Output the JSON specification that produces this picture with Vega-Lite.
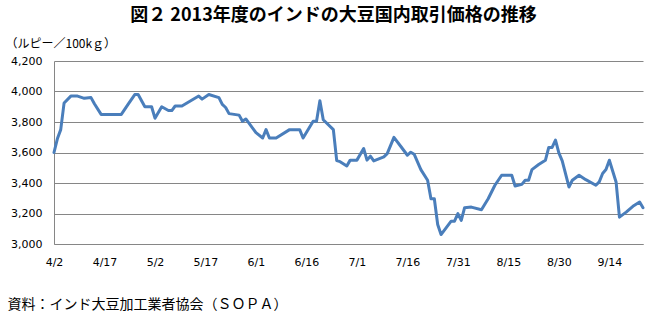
{
  "$schema": "https://vega.github.io/schema/vega-lite/v6.json",
  "autosize": "none",
  "width": 589,
  "height": 183,
  "padding": {"left": 54, "top": 61, "right": 9, "bottom": 68},
  "background": "white",
  "title": {
    "text": "図２  2013年度のインドの大豆国内取引価格の推移",
    "font": "Noto Sans CJK JP",
    "fontSize": 18,
    "fontWeight": "bold",
    "color": "#000000",
    "anchor": "middle",
    "dx": -15,
    "offset": 12
  },
  "data": {
    "values": [
      {"date": "2013/04/02", "price": 3600},
      {"date": "2013/04/03", "price": 3690},
      {"date": "2013/04/04", "price": 3750},
      {"date": "2013/04/05", "price": 3925},
      {"date": "2013/04/07", "price": 3970},
      {"date": "2013/04/09", "price": 3970},
      {"date": "2013/04/11", "price": 3955},
      {"date": "2013/04/13", "price": 3960},
      {"date": "2013/04/14", "price": 3920},
      {"date": "2013/04/16", "price": 3850},
      {"date": "2013/04/22", "price": 3850},
      {"date": "2013/04/24", "price": 3915},
      {"date": "2013/04/26", "price": 3980},
      {"date": "2013/04/27", "price": 3980},
      {"date": "2013/04/29", "price": 3900},
      {"date": "2013/05/01", "price": 3900},
      {"date": "2013/05/02", "price": 3825},
      {"date": "2013/05/04", "price": 3900},
      {"date": "2013/05/06", "price": 3875},
      {"date": "2013/05/07", "price": 3875},
      {"date": "2013/05/08", "price": 3905},
      {"date": "2013/05/10", "price": 3905},
      {"date": "2013/05/15", "price": 3970},
      {"date": "2013/05/16", "price": 3950},
      {"date": "2013/05/18", "price": 3980},
      {"date": "2013/05/21", "price": 3960},
      {"date": "2013/05/22", "price": 3915},
      {"date": "2013/05/23", "price": 3895},
      {"date": "2013/05/24", "price": 3855},
      {"date": "2013/05/27", "price": 3845},
      {"date": "2013/05/28", "price": 3805},
      {"date": "2013/05/29", "price": 3820},
      {"date": "2013/06/01", "price": 3730},
      {"date": "2013/06/03", "price": 3695},
      {"date": "2013/06/04", "price": 3750},
      {"date": "2013/06/05", "price": 3695},
      {"date": "2013/06/07", "price": 3695},
      {"date": "2013/06/11", "price": 3750},
      {"date": "2013/06/14", "price": 3750},
      {"date": "2013/06/15", "price": 3695},
      {"date": "2013/06/18", "price": 3805},
      {"date": "2013/06/19", "price": 3805},
      {"date": "2013/06/20", "price": 3940},
      {"date": "2013/06/21", "price": 3815},
      {"date": "2013/06/24", "price": 3750},
      {"date": "2013/06/25", "price": 3547},
      {"date": "2013/06/26", "price": 3540},
      {"date": "2013/06/28", "price": 3512},
      {"date": "2013/06/29", "price": 3550},
      {"date": "2013/07/01", "price": 3550},
      {"date": "2013/07/03", "price": 3626},
      {"date": "2013/07/04", "price": 3550},
      {"date": "2013/07/05", "price": 3576},
      {"date": "2013/07/06", "price": 3545},
      {"date": "2013/07/09", "price": 3571},
      {"date": "2013/07/10", "price": 3593},
      {"date": "2013/07/12", "price": 3699},
      {"date": "2013/07/14", "price": 3641},
      {"date": "2013/07/16", "price": 3582},
      {"date": "2013/07/17", "price": 3602},
      {"date": "2013/07/18", "price": 3589},
      {"date": "2013/07/20", "price": 3488},
      {"date": "2013/07/22", "price": 3418},
      {"date": "2013/07/23", "price": 3297},
      {"date": "2013/07/24", "price": 3297},
      {"date": "2013/07/25", "price": 3128},
      {"date": "2013/07/26", "price": 3062},
      {"date": "2013/07/29", "price": 3150},
      {"date": "2013/07/30", "price": 3150},
      {"date": "2013/07/31", "price": 3199},
      {"date": "2013/08/01", "price": 3155},
      {"date": "2013/08/02", "price": 3238},
      {"date": "2013/08/04", "price": 3242},
      {"date": "2013/08/07", "price": 3225},
      {"date": "2013/08/09", "price": 3297},
      {"date": "2013/08/11", "price": 3385},
      {"date": "2013/08/13", "price": 3451},
      {"date": "2013/08/16", "price": 3451},
      {"date": "2013/08/17", "price": 3380},
      {"date": "2013/08/19", "price": 3391},
      {"date": "2013/08/20", "price": 3418},
      {"date": "2013/08/21", "price": 3418},
      {"date": "2013/08/22", "price": 3488},
      {"date": "2013/08/24", "price": 3521},
      {"date": "2013/08/26", "price": 3549},
      {"date": "2013/08/27", "price": 3633},
      {"date": "2013/08/28", "price": 3633},
      {"date": "2013/08/29", "price": 3681},
      {"date": "2013/08/30", "price": 3597},
      {"date": "2013/08/31", "price": 3545},
      {"date": "2013/09/02", "price": 3374},
      {"date": "2013/09/03", "price": 3418},
      {"date": "2013/09/05", "price": 3451},
      {"date": "2013/09/07", "price": 3422},
      {"date": "2013/09/10", "price": 3385},
      {"date": "2013/09/11", "price": 3407},
      {"date": "2013/09/12", "price": 3462},
      {"date": "2013/09/13", "price": 3488},
      {"date": "2013/09/14", "price": 3549},
      {"date": "2013/09/16", "price": 3407},
      {"date": "2013/09/17", "price": 3176},
      {"date": "2013/09/19", "price": 3209},
      {"date": "2013/09/21", "price": 3247},
      {"date": "2013/09/23", "price": 3275},
      {"date": "2013/09/24", "price": 3238}
    ]
  },
  "mark": {"type": "line", "color": "#4A7EBB", "strokeWidth": 3, "strokeJoin": "round", "strokeCap": "round", "clip": false},
  "encoding": {
    "x": {
      "field": "date",
      "type": "temporal",
      "scale": {"domain": [{"year": 2013, "month": 4, "date": 2}, {"year": 2013, "month": 9, "date": 24}]},
      "axis": {
        "title": "資料：インド大豆加工業者協会（ＳＯＰＡ）",
        "titleFont": "Noto Sans CJK JP",
        "titleFontSize": 14,
        "titleFontWeight": "normal",
        "titleColor": "#000000",
        "titleAlign": "left",
        "titleAnchor": null,
        "titleX": -47,
        "titleY": 60,
        "titleBaseline": "middle",
        "values": [
          {"year": 2013, "month": 4, "date": 2},
          {"year": 2013, "month": 4, "date": 17},
          {"year": 2013, "month": 5, "date": 2},
          {"year": 2013, "month": 5, "date": 17},
          {"year": 2013, "month": 6, "date": 1},
          {"year": 2013, "month": 6, "date": 16},
          {"year": 2013, "month": 7, "date": 1},
          {"year": 2013, "month": 7, "date": 16},
          {"year": 2013, "month": 7, "date": 31},
          {"year": 2013, "month": 8, "date": 15},
          {"year": 2013, "month": 8, "date": 30},
          {"year": 2013, "month": 9, "date": 14}
        ],
        "labelExpr": "timeFormat(datum.value, '%-m/%-d')",
        "labelFont": "DejaVu Sans",
        "labelFontSize": 11,
        "labelColor": "#000000",
        "labelPadding": 12,
        "labelFlush": false,
        "labelOverlap": false,
        "ticks": false,
        "grid": false,
        "domainColor": "#868686",
        "domainWidth": 1
      }
    },
    "y": {
      "field": "price",
      "type": "quantitative",
      "scale": {"domain": [3000, 4200], "nice": false, "zero": false},
      "axis": {
        "title": "（ルピー／100kｇ）",
        "titleFont": "Noto Sans CJK JP",
        "titleFontSize": 12,
        "titleFontWeight": "normal",
        "titleColor": "#000000",
        "titleAngle": 0,
        "titleAlign": "left",
        "titleAnchor": null,
        "titleX": -49,
        "titleY": -18,
        "titleBaseline": "middle",
        "values": [3000, 3200, 3400, 3600, 3800, 4000, 4200],
        "format": ",.0f",
        "labelFont": "DejaVu Sans",
        "labelFontSize": 11,
        "labelColor": "#000000",
        "labelPadding": 12,
        "ticks": false,
        "grid": true,
        "gridColor": "#868686",
        "gridWidth": 1,
        "domainColor": "#868686",
        "domainWidth": 1
      }
    }
  },
  "config": {
    "view": {"stroke": null}
  }
}
